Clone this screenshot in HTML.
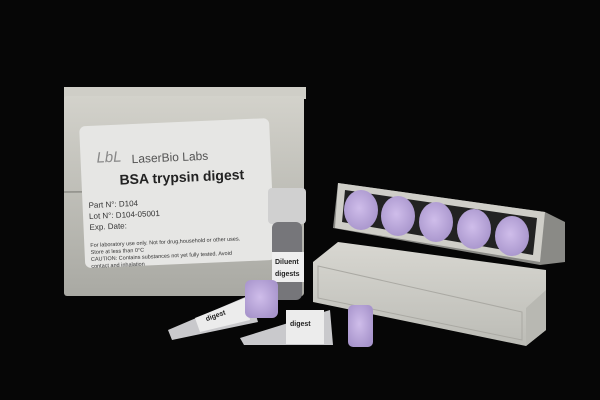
<!DOCTYPE html>
<html><head><meta charset="utf-8"><style>
html,body{margin:0;padding:0;background:#050505;width:600px;height:400px;overflow:hidden}
svg{display:block}
text{font-family:"Liberation Sans",sans-serif}
</style></head><body>
<svg width="600" height="400" viewBox="0 0 600 400">
<defs>
<radialGradient id="cap" cx="0.45" cy="0.45" r="0.6"><stop offset="0" stop-color="#cfbdea"/><stop offset="1" stop-color="#a895cc"/></radialGradient>
<linearGradient id="box" x1="0" y1="0" x2="0" y2="1"><stop offset="0" stop-color="#d3d2cb"/><stop offset="1" stop-color="#a9a9a3"/></linearGradient>
<linearGradient id="lid" x1="0" y1="0" x2="0" y2="1"><stop offset="0" stop-color="#d8d7d1"/><stop offset="1" stop-color="#bcbcb6"/></linearGradient>
</defs>
<rect width="600" height="400" fill="#060606"/>
<g>
<rect x="64" y="87" width="242" height="12" fill="#cfcec7"/>
<rect x="64" y="96" width="240" height="200" rx="3" fill="url(#box)"/>
<line x1="64" y1="192" x2="304" y2="190" stroke="#8e8e88" stroke-width="1.5"/>
<g transform="rotate(-2.5 180 190)">
<rect x="82" y="122" width="190" height="142" rx="6" fill="#e6e6e4"/>
<text x="98" y="159" font-size="15" font-style="italic" fill="#888" font-family="Liberation Serif,serif">LbL</text>
<text x="133" y="161" font-size="12" fill="#555">LaserBio Labs</text>
<text x="120" y="182" font-size="14" font-weight="bold" fill="#222">BSA trypsin digest</text>
<text x="88" y="204" font-size="8" fill="#333">Part N°: D104</text>
<text x="88" y="215" font-size="8" fill="#333">Lot N°: D104-05001</text>
<text x="88" y="226" font-size="8" fill="#333">Exp. Date:</text>
<text x="88" y="243" font-size="5.5" fill="#333">For laboratory use only. Not for drug,household or other uses.</text>
<text x="88" y="250" font-size="5.5" fill="#333">Store at less than 0°C</text>
<text x="88" y="257" font-size="5.5" fill="#333">CAUTION: Contains substances not yet fully tested. Avoid</text>
<text x="88" y="264" font-size="5.5" fill="#333">contact and inhalation</text>
</g>
</g>
<g>
<rect x="268" y="188" width="38" height="36" rx="4" fill="#d0d0d0"/>
<rect x="272" y="222" width="30" height="78" rx="6" fill="#76767a"/>
<rect x="272" y="252" width="32" height="30" fill="#eeeeee"/>
<text x="275" y="264" font-size="7" font-weight="bold" fill="#222">Diluent</text>
<text x="275" y="276" font-size="7" font-weight="bold" fill="#222">digests</text>
</g>
<g>
<polygon points="313,262 338,242 546,270 546,330 526,346 313,302" fill="url(#lid)"/>
<polygon points="526,308 546,290 546,330 526,346" fill="#b8b8b2"/>
<polygon points="318,266 522,312 522,340 318,298" fill="none" stroke="#aaa9a3" stroke-width="1"/>
</g>
<g>
<polygon points="338,183 545,212 565,222 565,262 540,265 333,228" fill="#8a8a86"/>
<polygon points="338,183 545,212 540,262 335,228" fill="#cfcec8"/>
<polygon points="345,190 537,218 533,255 342,222" fill="#222"/>
<ellipse cx="361" cy="210" rx="17" ry="20" fill="url(#cap)"/>
<ellipse cx="398" cy="216" rx="17" ry="20" fill="url(#cap)"/>
<ellipse cx="436" cy="222" rx="17" ry="20" fill="url(#cap)"/>
<ellipse cx="474" cy="229" rx="17" ry="20" fill="url(#cap)"/>
<ellipse cx="512" cy="236" rx="17" ry="20" fill="url(#cap)"/>
</g>
<g>
<polygon points="168,330 250,295 258,322 172,340" fill="#c9c9cc"/>
<polygon points="195,318 245,298 250,320 200,332" fill="#ececec"/>
<text x="205" y="318" font-size="7" font-weight="bold" fill="#222" transform="rotate(-20 215 315)">digest</text>
<rect x="245" y="280" width="33" height="38" rx="6" fill="url(#cap)"/>
</g>
<g>
<polygon points="240,338 330,310 333,345 244,345" fill="#c9c9cc"/>
<rect x="286" y="310" width="38" height="34" fill="#ececec"/>
<text x="290" y="326" font-size="7" font-weight="bold" fill="#222">digest</text>
<rect x="348" y="305" width="25" height="42" rx="5" fill="url(#cap)"/>
</g>
</svg>
</body></html>
